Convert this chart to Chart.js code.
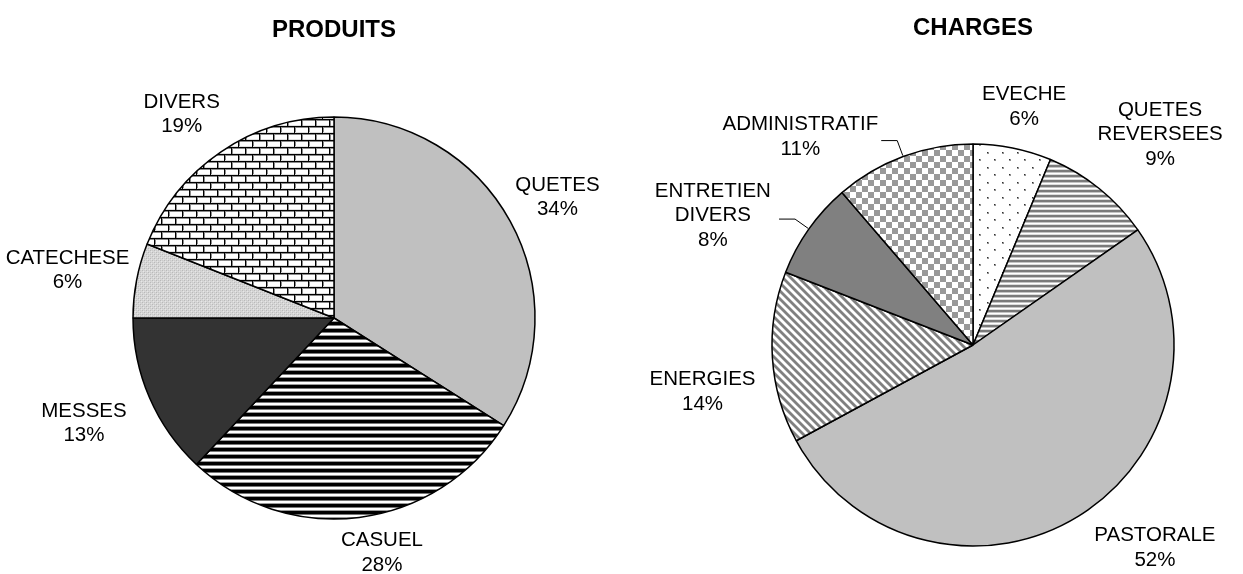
<!DOCTYPE html>
<html><head><meta charset="utf-8">
<script src="https://cdn.jsdelivr.net/npm/chart.js@4"></script>
<style>
body{margin:0;background:#fff;width:1243px;height:574px;overflow:hidden;position:relative}
canvas{position:absolute;top:0}
</style></head>
<body>
<canvas id="c1" width="640" height="574" style="left:0"></canvas>
<canvas id="c2" width="603" height="574" style="left:640px"></canvas>
<script>
// ---- data ----
const produitsTitle = 'PRODUITS';
const produitsLabels = [['QUETES'], ['CASUEL'], ['MESSES'], ['CATECHESE'], ['DIVERS']];
const produitsValues = [34, 28, 13, 6, 19];

const chargesTitle = 'CHARGES';
const chargesLabels = [['EVECHE'], ['QUETES', 'REVERSEES'], ['PASTORALE'], ['ENERGIES'], ['ENTRETIEN', 'DIVERS'], ['ADMINISTRATIF']];
const chargesValues = [6.3, 9.0, 51.8, 13.8, 7.8, 11.3];

// ---- patterns ----
function pat(w, h, draw) {
  const c = document.createElement('canvas'); c.width = w; c.height = h;
  const g = c.getContext('2d'); draw(g, w, h);
  return g.createPattern(c, 'repeat');
}
function px(g, x, y, col, w = 1, h = 1) { g.fillStyle = col; g.fillRect(x, y, w, h); }

const pHStripesBlack = pat(1, 7, g => {
  px(g,0,0,'#000',1,3); px(g,0,3,'#777'); px(g,0,4,'#fff',1,2); px(g,0,6,'#999');
});
const pHStripesGray = pat(1, 5, g => {
  px(g,0,0,'#7a7a7a',1,2); px(g,0,2,'#c4c4c4'); px(g,0,3,'#fff'); px(g,0,4,'#dcdcdc');
});
const pBricks = pat(14, 14, g => {
  px(g,0,0,'#fff',14,14);
  px(g,0,0,'#000',14,1); px(g,0,1,'#8a8a8a',14,1);
  px(g,0,1,'#000',1,6); px(g,1,2,'#8a8a8a',1,5);
  px(g,0,7,'#000',14,1); px(g,0,8,'#8a8a8a',14,1);
  px(g,7,8,'#000',1,6); px(g,8,9,'#8a8a8a',1,5);
  px(g,1,6,'#e0e0e0',13,1); px(g,0,13,'#e0e0e0',7,1); px(g,9,13,'#e0e0e0',5,1);
});
const pLightHatch = pat(4, 4, g => {
  px(g,0,0,'#d6d6d6',4,4);
  px(g,0,0,'#b9b9b9'); px(g,2,2,'#b9b9b9');
  px(g,1,1,'#e6e6e6'); px(g,3,3,'#e6e6e6');
  px(g,2,0,'#cacaca'); px(g,0,2,'#cacaca');
});
const pDots = pat(15, 15, g => {
  px(g,0,0,'#fff',15,15);
  px(g,2,2,'#909090',2,2); px(g,2,2,'#303030');
  px(g,9,9,'#909090',2,2); px(g,9,9,'#303030');
});
const pDiag = pat(8, 8, g => {
  for (let y = 0; y < 8; y++) for (let x = 0; x < 8; x++) {
    const d = ((x - y) % 8 + 8) % 8;
    let c = '#fff';
    if (d === 0 || d === 1 || d === 2) c = '#808080';
    else if (d === 3 || d === 7) c = '#c0c0c0';
    px(g, x, y, c);
  }
});
const pChecker = pat(12, 12, g => {
  px(g,0,0,'#fff',12,12);
  px(g,0,0,'#999',6,6); px(g,6,6,'#999',6,6);
});

const produitsFills = ['#C0C0C0', pHStripesBlack, '#333333', pLightHatch, pBricks];
const chargesFills = [pDots, pHStripesGray, '#C0C0C0', pDiag, '#808080', pChecker];

// ---- label plugin ----
const FONT = '"Liberation Sans", Arial, sans-serif';
const pieLabels = {
  id: 'pieLabels',
  afterDraw(chart, args, opts) {
    const ctx = chart.ctx;
    const meta = chart.getDatasetMeta(0);
    const data = chart.data.datasets[0].data;
    const total = data.reduce((a, b) => a + b, 0);
    const a0 = meta.data[0];
    const cx = a0.x, cy = a0.y, r = a0.outerRadius;
    ctx.save();
    ctx.fillStyle = '#000';
    ctx.textAlign = 'center';
    ctx.textBaseline = 'middle';
    ctx.font = 'bold 24px ' + FONT;
    ctx.fillText(opts.title, cx, opts.titleY);
    ctx.font = '20.5px ' + FONT;
    meta.data.forEach((arc, i) => {
      const mid = (arc.startAngle + arc.endAngle) / 2;
      const dx = Math.cos(mid), dy = Math.sin(mid);
      const n = opts.nudge[i];
      const lines = chart.data.labels[i].concat([Math.round(data[i] / total * 100) + '%']);
      const lx = cx + dx * opts.labelRadius + n[0];
      const ly = cy + dy * opts.labelRadius + n[1];
      const lh = 24.5;
      lines.forEach((t, k) => ctx.fillText(t, lx, ly + (k - (lines.length - 1) / 2) * lh));
      if (opts.leaders && opts.leaders[i]) {
        const ex = cx + dx * (r + 1), ey = cy + dy * (r + 1);
        const bx = ex + dx * 16, by = ey + dy * 16;
        ctx.strokeStyle = '#000'; ctx.lineWidth = 1;
        ctx.beginPath(); ctx.moveTo(ex, ey); ctx.lineTo(bx, by); ctx.lineTo(bx - 16, by); ctx.stroke();
      }
    });
    ctx.restore();
  }
};

function makePie(id, labels, values, fills, padding, labelOpts) {
  return new Chart(document.getElementById(id), {
    type: 'pie',
    data: {
      labels: labels,
      datasets: [{
        data: values,
        backgroundColor: fills,
        borderColor: '#000',
        borderWidth: 1.5,
        hoverOffset: 0,
        radius: 201
      }]
    },
    options: {
      responsive: false,
      animation: false,
      devicePixelRatio: 1,
      layout: { padding: padding },
      events: [],
      plugins: {
        legend: { display: false },
        tooltip: { enabled: false },
        title: { display: false },
        pieLabels: labelOpts
      }
    },
    plugins: [pieLabels]
  });
}

makePie('c1', produitsLabels, produitsValues, produitsFills,
  { left: 133, right: 105, top: 117, bottom: 55 },
  { title: produitsTitle, titleY: 30, labelRadius: 255,
    nudge: [[0, 2], [16, -18], [-16, 4], [-16, 0], [-9, 7]] });

makePie('c2', chargesLabels, chargesValues, chargesFills,
  { left: 132, right: 69, top: 144, bottom: 28 },
  { title: chargesTitle, titleY: 28, labelRadius: 255,
    nudge: [[1, 12], [27, -12], [48, -14], [-16, 31], [-52, 18], [-84, 31]],
    leaders: [false, false, false, false, true, true] });
</script>
</body></html>
